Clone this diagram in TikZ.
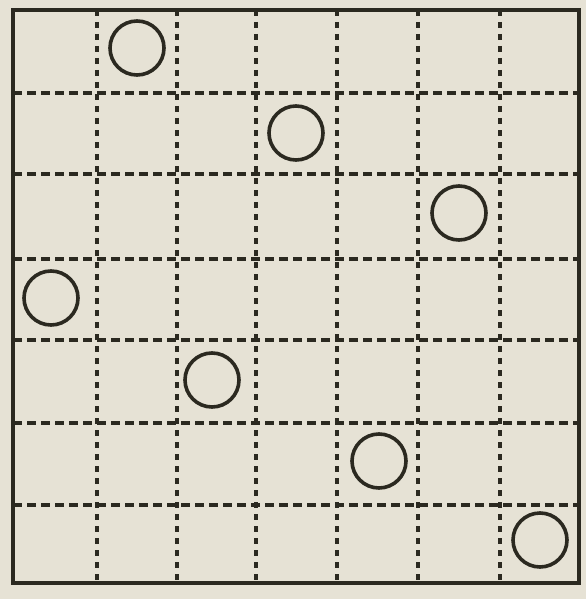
\documentclass[tikz,border=0pt]{standalone}
\definecolor{paper}{HTML}{E6E2D5}
\definecolor{ink}{HTML}{2B2920}
\begin{document}
\begin{tikzpicture}[x=1pt,y=-1pt,
  gridline/.style={ink,line width=3.1pt},
  hdash/.style={gridline,dash pattern=on 9pt off 5pt},
  vdash/.style={gridline,dash pattern=on 6pt off 6pt},
  frame/.style={ink,line width=4.5pt},
  ring/.style={circle,draw=ink,line width=3.6pt,minimum size=54pt,inner sep=0pt}]
\fill[paper] (0,0) rectangle (586,599);
\useasboundingbox (0,0) rectangle (586,599);
\foreach \x in {97,177,256,337,418,500}
  \draw[vdash] (\x,10) -- (\x,583);
\foreach \y in {93,174,259,340,423,505}
  \draw[hdash] (13,\y) -- (579,\y);
\draw[frame] (13,10) rectangle (579,583);
\node[ring] (c1) at (137,48) {};
\node[ring] (c2) at (296,133) {};
\node[ring] (c3) at (459,213) {};
\node[ring] (c4) at (51,298) {};
\node[ring] (c5) at (212,380) {};
\node[ring] (c6) at (379,461) {};
\node[ring] (c7) at (540,540) {};
\end{tikzpicture}
\end{document}
